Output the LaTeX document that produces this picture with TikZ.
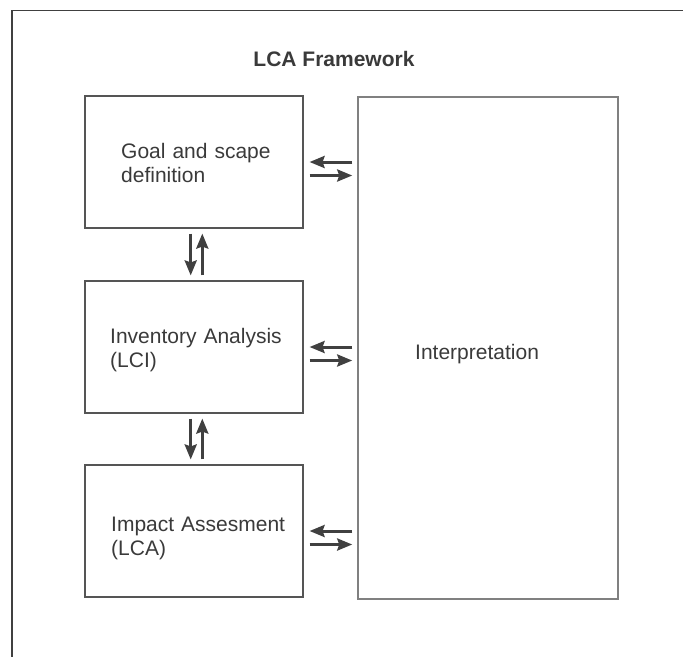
\documentclass[tikz,border=0pt]{standalone}
\usepackage{fontspec}
\setmainfont{Liberation Sans}
\usetikzlibrary{arrows.meta,calc}
\definecolor{txt}{HTML}{3A3A3A}
\definecolor{boxc}{HTML}{555555}
\definecolor{intc}{HTML}{808080}
\definecolor{arrc}{HTML}{404040}
\tikzset{
  stagebox/.style={draw=boxc, line width=1.1pt, minimum width=218pt, minimum height=132pt, inner sep=0pt},
  interpbox/.style={draw=intc, line width=1.5pt, minimum width=260pt, minimum height=502pt, inner sep=0pt},
  lbl/.style={text=txt, font=\fontsize{21}{24.5}\selectfont, inner sep=0pt, anchor=base west, align=left, text width=200pt},
  arr/.style={draw=arrc, line width=3pt, -{Stealth[length=15pt, width=12pt, inset=2pt]}},
  frameline/.style={draw=arrc, line width=1.3pt}
}
\begin{document}
\begin{tikzpicture}[x=1pt, y=-1pt]
\useasboundingbox (0,0) rectangle (683,657);
\coordinate (ftr) at (683,10.5);
\coordinate (ftl) at (12,10.5);
\coordinate (fbl) at (12,657);
\draw[frameline] (ftr) -- (ftl) -- (fbl);

\node[text=txt, font=\bfseries\fontsize{21}{24.5}\selectfont, inner sep=0pt, anchor=base] (title) at (334,66) {LCA Framework};

\node[stagebox] (g) at (194,162) {};
\node[stagebox] (inv) at (194,347) {};
\node[stagebox] (imp) at (194,531) {};
\node[interpbox] (interp) at (488,348) {};

\node[lbl] (gt) at (121,158) {Goal and scape\\definition};
\node[lbl] (invt) at (110,343) {Inventory Analysis\\(LCI)};
\node[lbl] (impt) at (111,531) {Impact Assesment\\(LCA)};
\node[lbl] (intt) at (415,359) {Interpretation};

% horizontal arrow pairs
\foreach \b in {g,inv,imp}{
  \draw[arr] ($(\b.east -| interp.west)+(-5,0)$) -- ($(\b.east)+(6,0)$);
  \draw[arr] ($(\b.east)+(6,13.5)$) -- ($(\b.east -| interp.west)+(-5,13.5)$);
}
% vertical arrow pairs
\draw[arr] ($(g.south)+(-3.3,5)$) -- ($(inv.north)+(-3.3,-5)$);
\draw[arr] ($(inv.north)+(8.3,-5)$) -- ($(g.south)+(8.3,5)$);
\draw[arr] ($(inv.south)+(-3.3,5)$) -- ($(imp.north)+(-3.3,-5)$);
\draw[arr] ($(imp.north)+(8.3,-5)$) -- ($(inv.south)+(8.3,5)$);
\end{tikzpicture}
\end{document}
